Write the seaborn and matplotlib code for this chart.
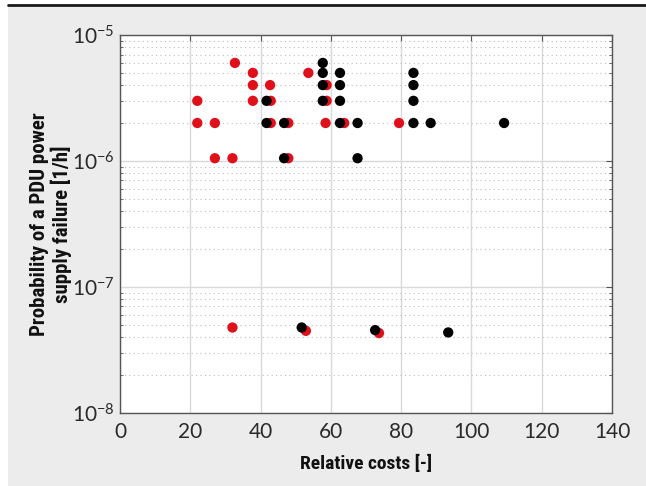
import numpy as np
import pandas as pd
import seaborn as sns
import matplotlib.pyplot as plt
from matplotlib.patches import Rectangle
from matplotlib.lines import Line2D
from matplotlib.ticker import LogLocator, FixedLocator, NullFormatter, FuncFormatter

# red series
red_cost = [22, 22, 27, 27, 32, 32, 32.7, 37.8, 37.8, 37.8, 42.7, 42.9, 42.9, 47.9, 47.9,
            52.9, 53.6, 58.8, 58.8, 58.5, 63.8, 73.7, 79.4]
red_prob = [3e-6, 2e-6, 2e-6, 1.05e-6, 1.05e-6, 4.75e-8, 6e-6, 5e-6, 4e-6, 3e-6, 4e-6, 3e-6, 2e-6, 2e-6, 1.05e-6,
            4.47e-8, 5e-6, 4e-6, 3e-6, 2e-6, 2e-6, 4.29e-8, 2e-6]

# black series
black_cost = [41.7, 41.7, 46.7, 46.7, 51.7, 57.7, 57.7, 57.7, 57.7, 62.6, 62.6, 62.6, 62.6,
              67.6, 67.6, 72.6, 83.5, 83.5, 83.5, 83.5, 88.4, 109.3, 93.4]
black_prob = [3e-6, 2e-6, 2e-6, 1.05e-6, 4.75e-8, 6e-6, 5e-6, 4e-6, 3e-6, 5e-6, 4e-6, 3e-6, 2e-6,
              2e-6, 1.05e-6, 4.53e-8, 5e-6, 4e-6, 3e-6, 2e-6, 2e-6, 2e-6, 4.34e-8]

df = pd.DataFrame({
    "cost": red_cost + black_cost,
    "prob": red_prob + black_prob,
    "group": ["red"] * len(red_cost) + ["black"] * len(black_cost),
})

sns.set_style("white")
plt.rcParams["font.family"] = ["Lato", "DejaVu Sans"]
plt.rcParams["mathtext.default"] = "regular"

fig = plt.figure(figsize=(6.46, 4.86), dpi=100, facecolor="white")
# grey panel and top rule, kept behind the axes
fig.patches.append(Rectangle((8 / 646, 0), 1, 1 - 4 / 486, transform=fig.transFigure,
                             facecolor="#ececec", edgecolor="none", zorder=-10))
fig.lines.append(Line2D([8 / 646, 1], [1 - 5 / 486, 1 - 5 / 486], transform=fig.transFigure,
                        color="#1a1a1a", lw=2, zorder=-9))

ax = fig.add_axes([120 / 646, 1 - 412.7 / 486, 492 / 646, 377.7 / 486])
ax.set_facecolor("white")

sns.scatterplot(data=df, x="cost", y="prob", hue="group",
                palette={"red": "#e0101b", "black": "#000000"},
                s=55, linewidth=0, legend=False, ax=ax, zorder=3)

ax.set_yscale("log")
ax.set_xlim(0, 140)
ax.set_ylim(1e-8, 1e-5)
ax.set_xticks(np.arange(0, 141, 20))
ax.yaxis.set_major_locator(FixedLocator([1e-8, 1e-7, 1e-6, 1e-5]))
ax.yaxis.set_minor_locator(LogLocator(base=10, subs=np.arange(2, 10)))
ax.yaxis.set_minor_formatter(NullFormatter())
ax.yaxis.set_major_formatter(FuncFormatter(lambda v, p: r"$10^{%d}$" % int(round(np.log10(v)))))

ax.grid(True, which="major", color="#d9d9d9", lw=1)
ax.grid(True, which="minor", axis="y", color="#bdbdbd", lw=0.8, ls=(0, (1, 3)))
ax.set_axisbelow(True)

for sp in ax.spines.values():
    sp.set_color("#555555")
    sp.set_linewidth(1)

ax.tick_params(axis="x", which="major", pad=7)
ax.tick_params(axis="y", which="major", pad=4)
ax.tick_params(axis="both", which="major", direction="in", length=4, color="#555555",
               labelsize=15, labelcolor="#2a2a2a", top=True, right=True)
ax.tick_params(axis="y", which="minor", direction="in", length=2.5, color="#555555", left=True, right=True)

lab_font = dict(family=["Roboto Condensed", "DejaVu Sans"],
                fontstretch="condensed", fontweight="bold", color="#111111")
ax.set_xlabel("Relative costs [-]", labelpad=9, fontsize=14, **lab_font)
ax.set_ylabel("Probability of a PDU power\nsupply failure [1/h]", labelpad=0, fontsize=15,
              linespacing=1.1, **lab_font)

fig.savefig("out.png", dpi=100, facecolor=fig.get_facecolor())
